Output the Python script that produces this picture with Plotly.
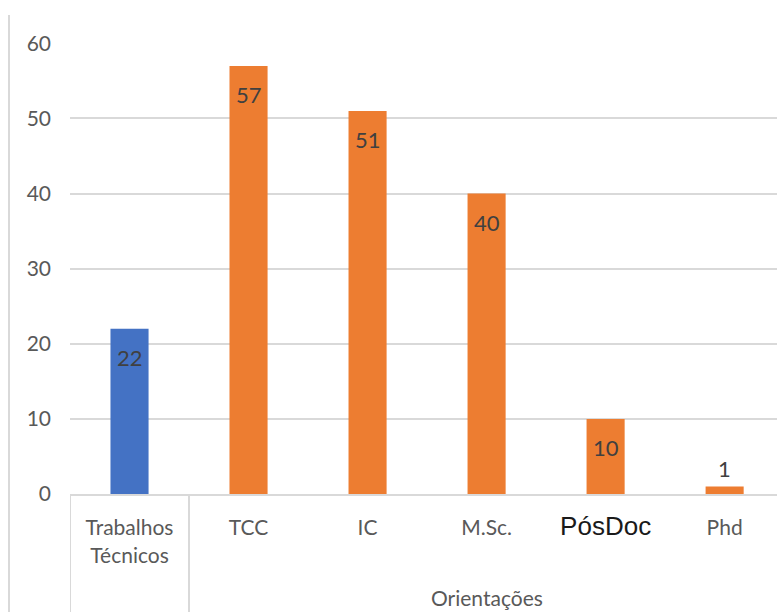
import plotly.graph_objects as go

categories = ["Trabalhos Técnicos", "TCC", "IC", "M.Sc.", "PósDoc", "Phd"]
tick_labels = ["Trabalhos<br>Técnicos", "TCC", "IC", "M.Sc.",
               '<span style="font-family:Liberation Sans;font-size:26px;fill:#1a1a1a">PósDoc</span>', "Phd"]
values = [22, 57, 51, 40, 10, 1]
colors = ["#4472C4", "#ED7D31", "#ED7D31", "#ED7D31", "#ED7D31", "#ED7D31"]
group_label = "Orientações"
group_members = [1, 2, 3, 4, 5]
y_ticks = [0, 10, 20, 30, 40, 50, 60]

FONT = "Lato"
xs = list(range(len(categories)))

fig = go.Figure()
fig.add_trace(go.Bar(x=xs, y=values, marker=dict(color=colors, line=dict(width=0)),
                     width=0.32, hoverinfo="x+y"))

# data labels
for x, v in zip(xs, values):
    if v >= 5:
        fig.add_annotation(x=x, y=v, xref="x", yref="y", text=str(v), showarrow=False,
                           yanchor="top", yshift=-13,
                           font=dict(family=FONT, size=22, color="#404040"))
    else:
        fig.add_annotation(x=x, y=v, xref="x", yref="y", text=str(v), showarrow=False,
                           yanchor="bottom", yshift=2,
                           font=dict(family=FONT, size=22, color="#404040"))

# group label
gc = sum(group_members) / len(group_members)
fig.add_annotation(x=gc, xref="x", y=-0.2305, yref="paper", text=group_label, showarrow=False,
                   yanchor="middle", font=dict(family=FONT, size=21, color="#595959"))

# category dividers below axis
for xd in [-0.5, 0.5]:
    fig.add_shape(type="line", xref="x", yref="paper", x0=xd, x1=xd, y0=0, y1=-0.27,
                  line=dict(color="#D9D9D9", width=2))

# left chart border
fig.add_shape(type="line", xref="paper", yref="paper", x0=-0.0863, x1=-0.0863, y0=-0.27, y1=1.062,
              line=dict(color="#D9D9D9", width=2))

fig.update_layout(
    width=777, height=612,
    margin=dict(l=70, r=0, t=43, b=118),
    paper_bgcolor="white", plot_bgcolor="white",
    showlegend=False,
    font=dict(family=FONT, size=21, color="#595959"),
    xaxis=dict(tickmode="array", tickvals=xs, ticktext=tick_labels,
               range=[-0.5, 5.44], showgrid=False, showline=True,
               linecolor="#D9D9D9", linewidth=2, ticks="", ticklabelstandoff=14,
               tickfont=dict(family=FONT, size=21, color="#595959"), fixedrange=True),
    yaxis=dict(range=[0, 60.05], tickmode="array", tickvals=y_ticks,
               showgrid=True, gridcolor="#D9D9D9", gridwidth=2, zeroline=False,
               showline=False, ticks="", ticklabelstandoff=18,
               tickfont=dict(family=FONT, size=21, color="#595959"), fixedrange=True),
)

fig.write_html("out.html")
